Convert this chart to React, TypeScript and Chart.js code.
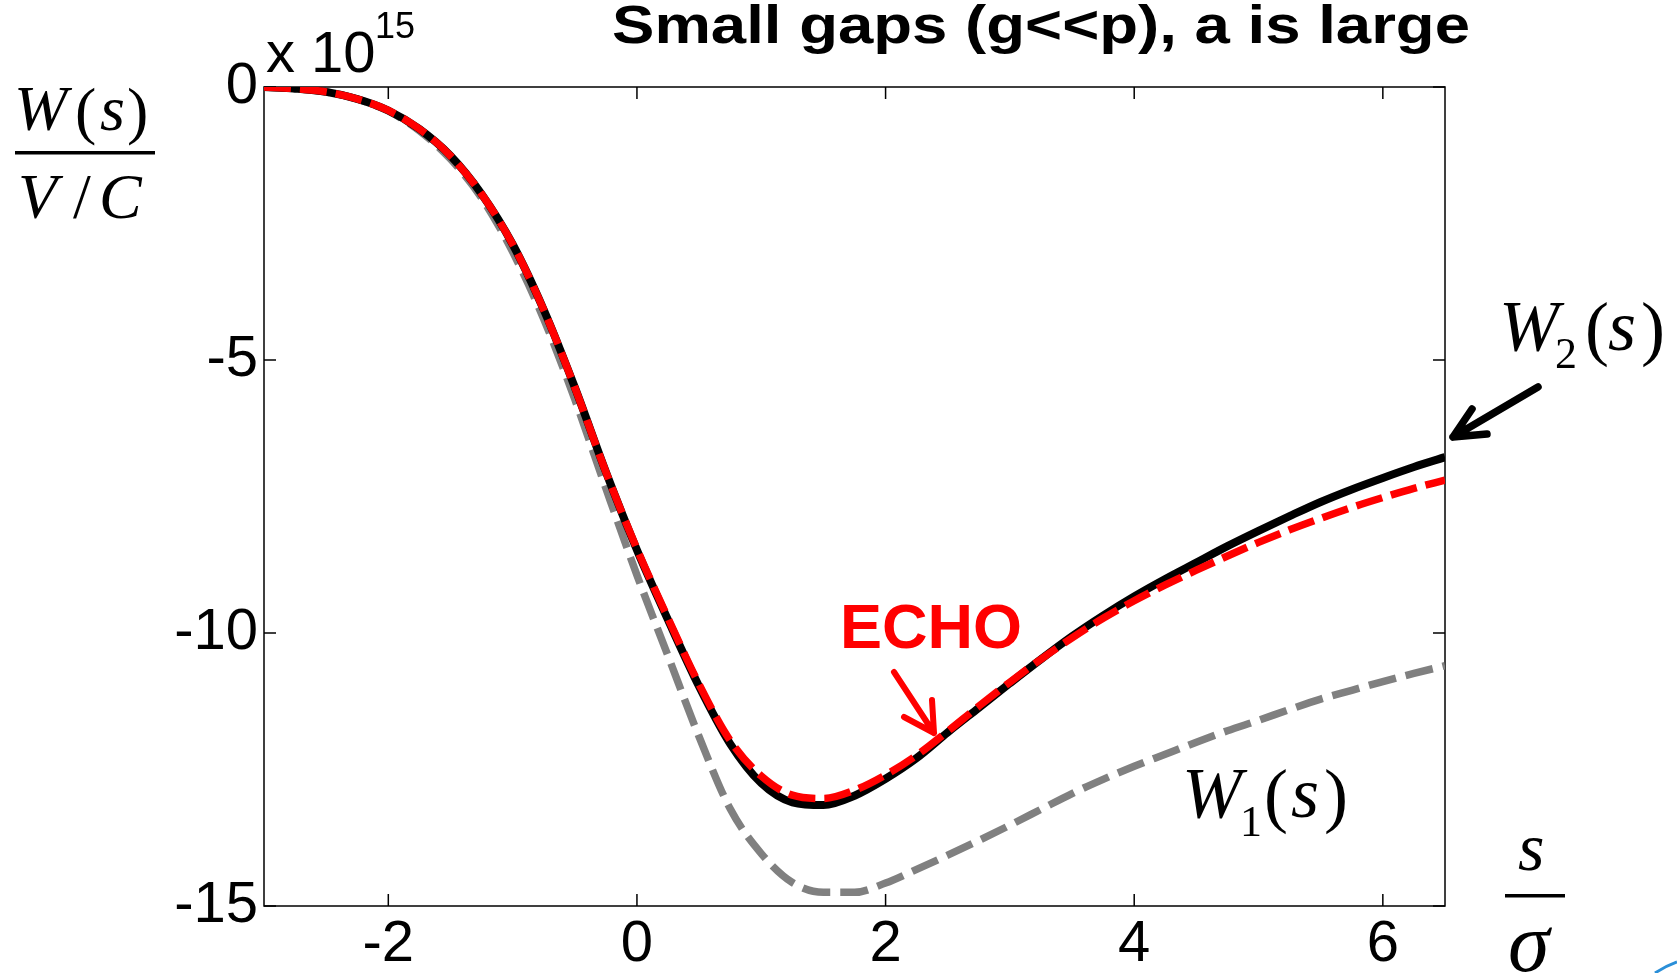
import React, { useEffect, useRef } from "react";
import { Chart, registerables } from "chart.js";

Chart.register(...registerables);

// s / sigma sample positions
const sValues = [
  -3, -2.75, -2.5, -2.25, -2, -1.75, -1.5, -1.25, -1, -0.75, -0.5, -0.25, 0, 0.25, 0.5, 0.75, 1,
  1.25, 1.5, 1.75, 2, 2.25, 2.5, 2.75, 3, 3.25, 3.5, 3.75, 4, 4.25, 4.5, 4.75, 5, 5.25, 5.5, 5.75,
  6, 6.25, 6.5,
];

// W2(s), solid black (x 10^15)
const w2Values = [
  0, -0.03, -0.09, -0.22, -0.43, -0.77, -1.26, -1.96, -2.88, -4.08, -5.5, -7.05, -8.48, -9.76,
  -10.98, -12.03, -12.75, -13.1, -13.15, -12.98, -12.67, -12.29, -11.82, -11.37, -10.92, -10.48,
  -10.06, -9.68, -9.33, -9.01, -8.71, -8.41, -8.13, -7.86, -7.6, -7.37, -7.16, -6.96, -6.78,
];

// ECHO, red dashed
const echoValues = [
  0, -0.03, -0.09, -0.22, -0.43, -0.77, -1.26, -1.96, -2.88, -4.08, -5.5, -7.05, -8.46, -9.73,
  -10.94, -11.97, -12.62, -12.97, -13.03, -12.88, -12.6, -12.24, -11.8, -11.34, -10.9, -10.48,
  -10.09, -9.73, -9.41, -9.12, -8.85, -8.59, -8.34, -8.11, -7.9, -7.7, -7.52, -7.35, -7.2,
];

// W1(s), grey dashed
const w1Values = [
  0, -0.03, -0.09, -0.22, -0.44, -0.8, -1.32, -2.03, -3.02, -4.25, -5.72, -7.35, -8.94, -10.42,
  -11.9, -13.22, -14.04, -14.57, -14.75, -14.75, -14.58, -14.33, -14.07, -13.8, -13.52, -13.23,
  -12.94, -12.68, -12.44, -12.22, -12.0, -11.79, -11.6, -11.4, -11.21, -11.05, -10.89, -10.74,
  -10.6,
];

const xTickValues = [-2, 0, 2, 4, 6];
const yTickValues = [0, -5, -10, -15];
const titleText = "Small gaps (g<<p), a is large";

const SANS = "'Liberation Sans', Arial, Helvetica, sans-serif";
const SERIF = "'Liberation Serif', 'Times New Roman', Times, serif";

type Run = { t: string; x: number; y: number; font: string; color?: string };

function drawRuns(ctx: CanvasRenderingContext2D, runs: Run[]) {
  ctx.textAlign = "left";
  ctx.textBaseline = "alphabetic";
  for (const r of runs) {
    ctx.font = r.font;
    ctx.fillStyle = r.color || "#000";
    ctx.fillText(r.t, r.x, r.y);
  }
}

function arrow(
  ctx: CanvasRenderingContext2D,
  x0: number,
  y0: number,
  x1: number,
  y1: number,
  w1: [number, number],
  w2: [number, number],
  color: string,
  lw: number
) {
  ctx.save();
  ctx.strokeStyle = color;
  ctx.lineWidth = lw;
  ctx.lineCap = "round";
  ctx.lineJoin = "round";
  ctx.beginPath();
  ctx.moveTo(x0, y0);
  ctx.lineTo(x1, y1);
  ctx.moveTo(w1[0], w1[1]);
  ctx.lineTo(x1, y1);
  ctx.lineTo(w2[0], w2[1]);
  ctx.stroke();
  ctx.restore();
}

const decorPlugin = {
  id: "decor",
  beforeDatasetsDraw(chart: any) {
    const { ctx, chartArea: a, scales } = chart;
    ctx.save();
    ctx.strokeStyle = "#000";
    ctx.lineWidth = 1.5;
    ctx.strokeRect(a.left, a.top, a.right - a.left, a.bottom - a.top);
    ctx.beginPath();
    const tl = 12;
    for (const v of xTickValues) {
      const px = scales.x.getPixelForValue(v);
      ctx.moveTo(px, a.bottom);
      ctx.lineTo(px, a.bottom - tl);
      ctx.moveTo(px, a.top);
      ctx.lineTo(px, a.top + tl);
    }
    for (const v of yTickValues) {
      const py = scales.y.getPixelForValue(v);
      ctx.moveTo(a.left, py);
      ctx.lineTo(a.left + tl, py);
      ctx.moveTo(a.right, py);
      ctx.lineTo(a.right - tl, py);
    }
    ctx.stroke();
    ctx.restore();
  },
  afterDraw(chart: any) {
    const ctx: CanvasRenderingContext2D = chart.ctx;
    ctx.save();
    // title (horizontally stretched like the reference)
    ctx.font = `bold 53px ${SANS}`;
    const tw = ctx.measureText(titleText).width;
    const targetW = 858;
    ctx.save();
    ctx.translate(612, 43);
    ctx.scale(targetW / tw, 1);
    drawRuns(ctx, [{ t: titleText, x: 0, y: 0, font: `bold 53px ${SANS}` }]);
    ctx.restore();
    // exponent
    drawRuns(ctx, [
      { t: "x 10", x: 266, y: 72, font: `58px ${SANS}` },
      { t: "15", x: 375, y: 38, font: `36px ${SANS}` },
    ]);
    // y label fraction
    drawRuns(ctx, [
      { t: "W", x: 14, y: 130, font: `italic 64px ${SERIF}` },
      { t: "(", x: 75, y: 132, font: `64px ${SERIF}` },
      { t: "s", x: 100, y: 130, font: `italic 64px ${SERIF}` },
      { t: ")", x: 127, y: 132, font: `64px ${SERIF}` },
      { t: "V", x: 18, y: 218, font: `italic 64px ${SERIF}` },
      { t: "/", x: 73, y: 218, font: `64px ${SERIF}` },
      { t: "C", x: 99, y: 218, font: `italic 64px ${SERIF}` },
    ]);
    ctx.fillStyle = "#000";
    ctx.fillRect(15, 151, 140, 3.5);
    // x label fraction
    drawRuns(ctx, [
      { t: "s", x: 1518, y: 870, font: `italic 68px ${SERIF}` },
      { t: "σ", x: 1508, y: 971, font: `italic 84px ${SERIF}` },
    ]);
    ctx.fillRect(1505, 894, 60, 3.5);
    // W2(s)
    drawRuns(ctx, [
      { t: "W", x: 1499, y: 350, font: `italic 72px ${SERIF}` },
      { t: "2", x: 1555, y: 368, font: `44px ${SERIF}` },
      { t: "(", x: 1585, y: 352, font: `72px ${SERIF}` },
      { t: "s", x: 1608, y: 350, font: `italic 72px ${SERIF}` },
      { t: ")", x: 1641, y: 352, font: `72px ${SERIF}` },
    ]);
    // W1(s)
    drawRuns(ctx, [
      { t: "W", x: 1182, y: 817, font: `italic 72px ${SERIF}` },
      { t: "1", x: 1240, y: 836, font: `44px ${SERIF}` },
      { t: "(", x: 1264, y: 819, font: `72px ${SERIF}` },
      { t: "s", x: 1291, y: 817, font: `italic 72px ${SERIF}` },
      { t: ")", x: 1324, y: 819, font: `72px ${SERIF}` },
    ]);
    // ECHO
    drawRuns(ctx, [{ t: "ECHO", x: 840, y: 648, font: `bold 63px ${SANS}`, color: "#ff0000" }]);
    arrow(ctx, 894, 672, 934, 733, [904, 717], [932, 700], "#ff0000", 6);
    // black arrow to W2
    arrow(ctx, 1538, 387, 1453, 437, [1472, 409], [1487, 434], "#000", 7.5);
    // small blue decoration at corner
    ctx.strokeStyle = "#2a8fd8";
    ctx.lineWidth = 3;
    ctx.beginPath();
    ctx.moveTo(1655, 973);
    ctx.quadraticCurveTo(1666, 966, 1677, 962);
    ctx.stroke();
    ctx.restore();
  },
};

export default function App() {
  const ref = useRef<HTMLCanvasElement>(null);
  useEffect(() => {
    document.body.style.margin = "0";
    const canvas = ref.current!;
    const pts = (ys: number[]) => sValues.map((x, i) => ({ x, y: ys[i] }));
    const chart = new Chart(canvas, {
      type: "line",
      data: {
        datasets: [
          {
            label: "ECHO",
            data: pts(echoValues),
            borderColor: "#ff0000",
            borderWidth: 7.5,
            borderDash: [27, 9],
            pointRadius: 0,
            cubicInterpolationMode: "monotone",
            fill: false,
          },
          {
            label: "W2(s)",
            data: pts(w2Values),
            borderColor: "#000000",
            borderWidth: 8,
            pointRadius: 0,
            cubicInterpolationMode: "monotone",
            fill: false,
          },
          {
            label: "W1(s)",
            data: pts(w1Values),
            borderColor: "#808080",
            borderWidth: 7.5,
            borderDash: [28, 10],
            pointRadius: 0,
            cubicInterpolationMode: "monotone",
            fill: false,
          },
        ],
      },
      options: {
        animation: false,
        responsive: false,
        events: [],
        layout: { padding: { left: 0, top: 87, right: 232, bottom: 0 } },
        plugins: {
          legend: { display: false },
          tooltip: { enabled: false },
          title: { display: false },
        },
        scales: {
          x: {
            type: "linear",
            min: -3,
            max: 6.5,
            afterBuildTicks: (s: any) => {
              s.ticks = xTickValues.map((v) => ({ value: v }));
            },
            afterFit: (s: any) => {
              s.height = 67;
            },
            grid: { display: false, drawTicks: false },
            border: { display: false },
            ticks: {
              color: "#000",
              font: { family: SANS, size: 58 },
              padding: 4,
              maxRotation: 0,
              autoSkip: false,
              callback: (v: any) => String(v),
            },
          },
          y: {
            type: "linear",
            min: -15,
            max: 0,
            afterBuildTicks: (s: any) => {
              s.ticks = yTickValues.map((v) => ({ value: v }));
            },
            afterFit: (s: any) => {
              s.width = 264;
            },
            grid: { display: false, drawTicks: false },
            border: { display: false },
            ticks: {
              color: "#000",
              font: { family: SANS, size: 58 },
              padding: 6,
              autoSkip: false,
              callback: (v: any) => String(v),
            },
          },
        },
      },
      plugins: [decorPlugin],
    } as any);
    return () => chart.destroy();
  }, []);
  return (
    <div style={{ position: "absolute", left: 0, top: 0, width: 1677, height: 973, background: "#fff" }}>
      <canvas ref={ref} width={1677} height={973} style={{ display: "block", width: 1677, height: 973 }} />
    </div>
  );
}
